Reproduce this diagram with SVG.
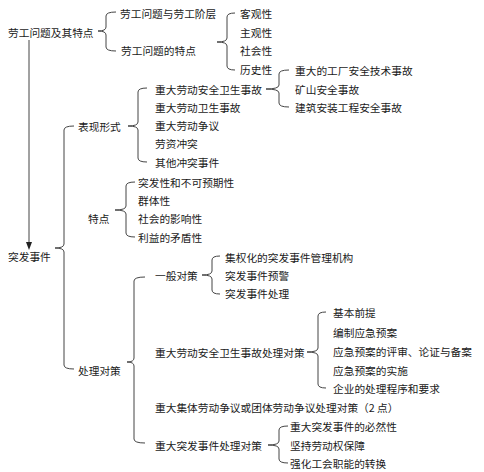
<svg xmlns="http://www.w3.org/2000/svg" width="484" height="472" viewBox="0 0 484 472">
<style>
text{font-family:"Noto Sans CJK SC","Noto Sans CJK JP",sans-serif;font-size:10.7px;fill:#1a1a1a;dominant-baseline:central}
.c{fill:none;stroke:#444;stroke-width:1}
</style>
<rect width="484" height="472" fill="#fff"/>
<g id="connectors">
<path class="c" d="M116,12 Q106,12 106,16 L106,27 Q106,31 98,31 Q106,31 106,35 L106,47 Q106,51 116,51"/>
<path class="c" d="M235,13 Q227,13 227,17 L227,38 Q227,42 217,42 Q227,42 227,46 L227,66 Q227,70 235,70"/>
<path class="c" d="M289,70 Q279,70 279,74 L279,85 Q279,89 266,89 Q279,89 279,93 L279,103 Q279,107 289,107"/>
<path class="c" d="M147,88 Q138,88 138,92 L138,122 Q138,126 128,126 Q138,126 138,130 L138,158 Q138,162 147,162"/>
<path class="c" d="M74,126 Q64,126 64,130 L64,244 Q64,248 55,248 Q64,248 64,252 L64,365 Q64,369 74,369"/>
<path class="c" d="M135,182 Q126,182 126,186 L126,206 Q126,210 115,210 Q126,210 126,214 L126,233 Q126,237 135,237"/>
<path class="c" d="M220,256 Q212,256 212,260 L212,271 Q212,275 202,275 Q212,275 212,279 L212,290 Q212,294 220,294"/>
<path class="c" d="M145,277 Q134,277 134,281 L134,358 Q134,362 127,362 Q134,362 134,366 L134,439 Q134,443 145,443"/>
<path class="c" d="M326,312 Q318,312 318,316 L318,348 Q318,352 307,352 Q318,352 318,356 L318,384 Q318,388 326,388"/>
<path class="c" d="M288,426 Q279,426 279,430 L279,441 Q279,445 268,445 Q279,445 279,449 L279,459 Q279,463 288,463"/>
<line class="c" x1="29" y1="40" x2="29" y2="243"/>
<polygon points="26,242 32,242 29,250" fill="#222"/>
</g>
<g id="n-laogong"><text x="8" y="32">劳工问题及其特点</text></g>
<g id="n-jieceng"><text x="120" y="13">劳工问题与劳工阶层</text></g>
<g id="n-tedian1"><text x="121" y="50">劳工问题的特点</text></g>
<g id="n-keguan"><text x="240" y="13">客观性</text></g>
<g id="n-zhuguan"><text x="240" y="32">主观性</text></g>
<g id="n-shehui"><text x="240" y="50">社会性</text></g>
<g id="n-lishi"><text x="240" y="69">历史性</text></g>
<g id="n-gongchang"><text x="295" y="70">重大的工厂安全技术事故</text></g>
<g id="n-kuangshan"><text x="295" y="89">矿山安全事故</text></g>
<g id="n-jianzhu"><text x="295" y="107">建筑安装工程安全事故</text></g>
<g id="n-anquan"><text x="155" y="89">重大劳动安全卫生事故</text></g>
<g id="n-weisheng"><text x="155" y="107">重大劳动卫生事故</text></g>
<g id="n-zhengyi"><text x="155" y="125">重大劳动争议</text></g>
<g id="n-chongtu"><text x="155" y="143">劳资冲突</text></g>
<g id="n-qita"><text x="155" y="162">其他冲突事件</text></g>
<g id="n-biaoxian"><text x="78" y="126">表现形式</text></g>
<g id="n-tufa"><text x="8" y="256">突发事件</text></g>
<g id="n-tedian2"><text x="88" y="218">特点</text></g>
<g id="n-t1"><text x="138" y="182">突发性和不可预期性</text></g>
<g id="n-t2"><text x="138" y="200">群体性</text></g>
<g id="n-t3"><text x="138" y="218">社会的影响性</text></g>
<g id="n-t4"><text x="138" y="237">利益的矛盾性</text></g>
<g id="n-yiban"><text x="155" y="275">一般对策</text></g>
<g id="n-y1"><text x="225" y="257">集权化的突发事件管理机构</text></g>
<g id="n-y2"><text x="225" y="275">突发事件预警</text></g>
<g id="n-y3"><text x="225" y="293">突发事件处理</text></g>
<g id="n-chuli"><text x="78" y="370">处理对策</text></g>
<g id="n-anquanduice"><text x="155" y="352">重大劳动安全卫生事故处理对策</text></g>
<g id="n-a1"><text x="333" y="312">基本前提</text></g>
<g id="n-a2"><text x="333" y="332">编制应急预案</text></g>
<g id="n-a3"><text x="333" y="351">应急预案的评审、论证与备案</text></g>
<g id="n-a4"><text x="333" y="370">应急预案的实施</text></g>
<g id="n-a5"><text x="333" y="388">企业的处理程序和要求</text></g>
<g id="n-jiti"><text x="155" y="407">重大集体劳动争议或团体劳动争议处理对策（2 点）</text></g>
<g id="n-tufaduice"><text x="155" y="445">重大突发事件处理对策</text></g>
<g id="n-s1"><text x="290" y="426">重大突发事件的必然性</text></g>
<g id="n-s2"><text x="290" y="445">坚持劳动权保障</text></g>
<g id="n-s3"><text x="290" y="463">强化工会职能的转换</text></g>
</svg>
